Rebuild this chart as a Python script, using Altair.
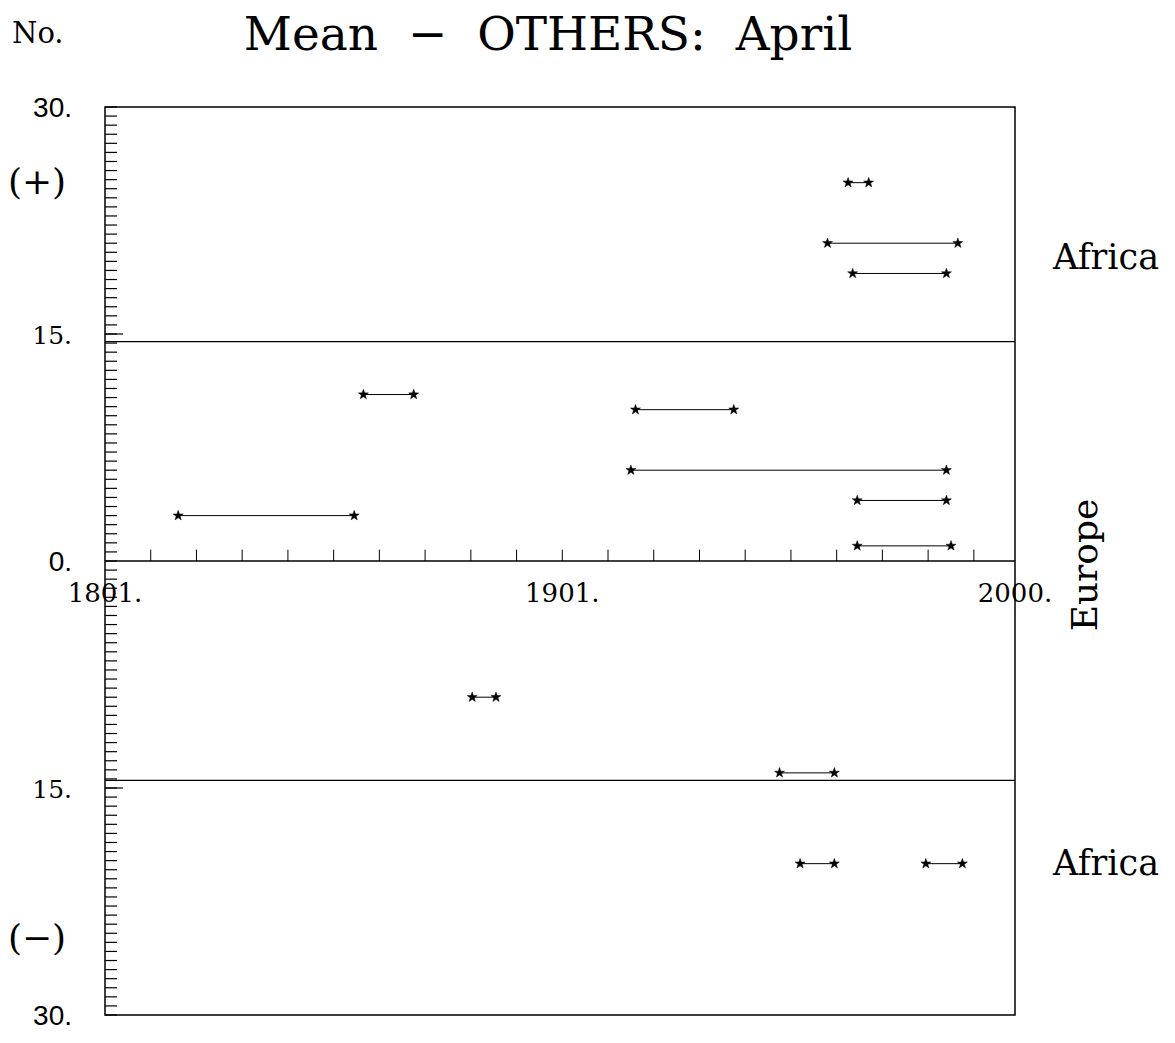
import altair as alt
import pandas as pd

# Segments (years from start to end) and their counts; positive = upper panel, negative = lower
seg_start = [1963.5, 1959, 1964.5, 1857.5, 1917, 1916, 1965.5, 1817, 1965.5, 1881.3, 1948.5, 1953, 1980.5]
seg_end = [1968, 1987.5, 1985, 1868.5, 1938.5, 1985, 1985, 1855.5, 1986, 1886.5, 1960.5, 1960.5, 1988.5]
seg_value = [25, 21, 19, 11, 10, 6, 4, 3, 1, -9, -14, -20, -20]

# Axis decoration data
x_tick_years = [1811, 1821, 1831, 1841, 1851, 1861, 1871, 1881, 1891, 1901,
                1911, 1921, 1931, 1941, 1951, 1961, 1971, 1981, 1991]
x_label_years = [1801, 1901, 2000]
x_label_text = ["1801.", "1901.", "2000."]
y_minor_ticks = [round(-30 + 0.6 * i, 1) for i in range(101)]
y_major_ticks = [15, -15]
divider_values = [14.5, 0, -14.5]
y_sans_values = [30, 0, -30]
y_sans_text = ["30.", "0.", "30."]
y_serif_values = [15, -15]
y_serif_text = ["15.", "15."]
sign_values = [25, -25]
sign_text = ["(+)", "(\u2212)"]
region_values = [20, -20]
region_text = ["Africa", "Africa"]

STAR = ("M0,-1L0.235,-0.324L0.951,-0.309L0.380,0.124L0.588,0.809L0,0.4"
        "L-0.588,0.809L-0.380,0.124L-0.951,-0.309L-0.235,-0.324Z")

W, H = 910, 908
xs = alt.Scale(domain=[1801, 2000], nice=False, zero=False)
ys = alt.Scale(domain=[-30, 30], nice=False, zero=False)

seg = pd.DataFrame({"start": seg_start, "end": seg_end, "value": seg_value})
pts = pd.DataFrame({"year": seg_start + seg_end, "value": seg_value + seg_value})


def X(f):
    return alt.X(f, scale=xs, axis=None)


def Y(f):
    return alt.Y(f, scale=ys, axis=None)


rules = alt.Chart(seg).mark_rule(color="black", strokeWidth=1).encode(
    x=X("start:Q"), x2="end:Q", y=Y("value:Q"))
stars = alt.Chart(pts).mark_point(shape=STAR, filled=True, fill="black", stroke="black",
                                  strokeWidth=0.5, size=110, opacity=1).encode(
    x=X("year:Q"), y=Y("value:Q"))

dividers = alt.Chart(pd.DataFrame({"v": divider_values})).mark_rule(
    color="black", strokeWidth=1.3).encode(y=Y("v:Q"))

xt = pd.DataFrame({"year": x_tick_years, "y0": [0] * len(x_tick_years),
                   "y1": [0.75] * len(x_tick_years)})
xticks = alt.Chart(xt).mark_rule(color="black", strokeWidth=1).encode(
    x=X("year:Q"), y=Y("y0:Q"), y2="y1:Q")

yticks = alt.Chart(pd.DataFrame({"v": y_minor_ticks})).mark_rule(
    color="black", strokeWidth=1.2).encode(y=Y("v:Q"), x=alt.value(0), x2=alt.value(12))
ymaj = alt.Chart(pd.DataFrame({"v": y_major_ticks})).mark_rule(
    color="black", strokeWidth=1.2).encode(y=Y("v:Q"), x=alt.value(0), x2=alt.value(18))

xl = pd.DataFrame({"year": x_label_years, "t": x_label_text, "y0": [0, 0, 0]})
xlabels = alt.Chart(xl).mark_text(font="DejaVu Serif", fontSize=26, align="center",
                                  baseline="alphabetic", dy=41, color="black").encode(
    x=X("year:Q"), y=Y("y0:Q"), text="t:N")

ysans = alt.Chart(pd.DataFrame({"v": y_sans_values, "t": y_sans_text})).mark_text(
    font="Liberation Sans", fontSize=28, align="right", baseline="middle", dy=2,
    color="black").encode(y=Y("v:Q"), x=alt.value(-33), text="t:N")
yserif = alt.Chart(pd.DataFrame({"v": y_serif_values, "t": y_serif_text})).mark_text(
    font="DejaVu Serif", fontSize=25, align="right", baseline="middle", dy=2,
    color="black").encode(y=Y("v:Q"), x=alt.value(-33), text="t:N")
signs = alt.Chart(pd.DataFrame({"v": sign_values, "t": sign_text})).mark_text(
    font="DejaVu Serif", fontSize=36, align="center", baseline="middle", color="black").encode(
    y=Y("v:Q"), x=alt.value(-68), text="t:N")
regions = alt.Chart(pd.DataFrame({"v": region_values, "t": region_text})).mark_text(
    font="DejaVu Serif", fontSize=35, align="left", baseline="middle", color="black").encode(
    y=Y("v:Q"), x=alt.value(948), text="t:N")
europe = alt.Chart(pd.DataFrame({"v": [0], "t": ["Europe"]})).mark_text(
    font="DejaVu Serif", fontSize=36, align="center", baseline="middle", angle=270,
    dx=-4, color="black").encode(y=Y("v:Q"), x=alt.value(981), text="t:N")

title = alt.Chart(pd.DataFrame({"t": ["Mean\u00a0\u00a0\u2212\u00a0\u00a0OTHERS:\u00a0\u00a0April"]})).mark_text(
    font="DejaVu Serif", fontSize=47, align="center", baseline="alphabetic", color="black").encode(
    x=alt.value(443), y=alt.value(-57), text="t:N")
no = alt.Chart(pd.DataFrame({"t": ["No."]})).mark_text(
    font="DejaVu Serif", fontSize=29, align="left", baseline="alphabetic", color="black").encode(
    x=alt.value(-93), y=alt.value(-64), text="t:N")

chart = alt.layer(
    dividers, xticks, yticks, ymaj, rules, stars, xlabels, ysans, yserif, signs,
    regions, europe, title, no
).properties(
    width=W, height=H,
    padding={"left": 97, "top": 99, "right": 150, "bottom": 18},
    autosize=alt.AutoSizeParams(type="none"),
    background="white",
).configure_view(stroke="black", strokeWidth=1.5)

chart.save("out.html", embed_options={"renderer": "svg", "actions": False})
